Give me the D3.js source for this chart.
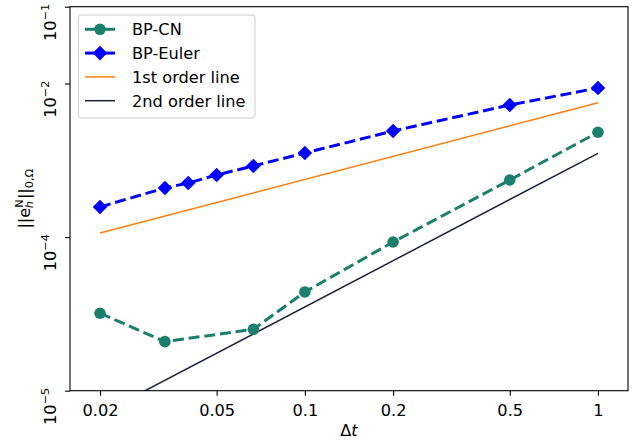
<!DOCTYPE html>
<html>
<head>
<meta charset="utf-8">
<script src="https://cdn.jsdelivr.net/npm/d3@7"></script>
<style>
  body { margin: 0; background: #fff; }
  text { font-family: "DejaVu Sans", sans-serif; }
</style>
</head>
<body>
<script>
// time steps
const dtEuler = [0.02, 0.0333, 0.04, 0.05, 0.0667, 0.1, 0.2, 0.5, 1];
const dtCN = [0.02, 0.0333, 0.0667, 0.1, 0.2, 0.5, 1];
const errEuler = [2.47e-4, 4.36e-4, 5.06e-4, 6.44e-4, 8.43e-4, 1.245e-3, 2.41e-3, 5.25e-3, 8.74e-3];
const errCN = [1.02e-5, 4.35e-6, 6.3e-6, 1.93e-5, 8.63e-5, 5.54e-4, 2.32e-3];
// reference lines (end points)
const dtRef = [0.02, 1];
const firstOrder = [1.13e-4, 5.62e-3];
const secondOrder = [4.93e-7, 1.233e-3];

const xTicks = [0.02, 0.05, 0.1, 0.2, 0.5, 1];
const xTickLabels = ["0.02", "0.05", "0.1", "0.2", "0.5", "1"];
const yTicks = [1e-6, 1e-4, 1e-2, 1e-1];
const yTickExps = ["5", "4", "2", "1"];

const width = 644;
const height = 443;
const plotLeft = 70, plotRight = 628, plotTop = 6.7, plotBottom = 390.7;
const fs = 16.2;
const fsSmall = 11.3;

const teal = "#1b7f6e";
const blue = "#0000ff";
const orange = "#ff7f0e";
const dark = "#1c1f3b";

const svg = d3
  .select("body")
  .append("svg")
  .attr("width", width)
  .attr("height", height);

const xScale = d3.scaleLog().domain([0.0158, 1.266]).range([plotLeft, plotRight]);
const yScale = d3.scaleLog().domain([1e-6, 1e-1]).range([plotBottom, plotTop]);

svg
  .append("clipPath")
  .attr("id", "plot-clip")
  .append("rect")
  .attr("x", plotLeft)
  .attr("y", plotTop)
  .attr("width", plotRight - plotLeft)
  .attr("height", plotBottom - plotTop);

const plot = svg.append("g").attr("clip-path", "url(#plot-clip)");

const line = d3
  .line()
  .x((d) => xScale(d[0]))
  .y((d) => yScale(d[1]));

const zip = (a, b) => a.map((v, i) => [v, b[i]]);

// reference lines
plot
  .append("path")
  .attr("d", line(zip(dtRef, firstOrder)))
  .attr("fill", "none")
  .attr("stroke", orange)
  .attr("stroke-width", 1.5);

plot
  .append("path")
  .attr("d", line(zip(dtRef, secondOrder)))
  .attr("fill", "none")
  .attr("stroke", dark)
  .attr("stroke-width", 1.5);

// BP-CN
plot
  .append("path")
  .attr("d", line(zip(dtCN, errCN)))
  .attr("fill", "none")
  .attr("stroke", teal)
  .attr("stroke-width", 3)
  .attr("stroke-dasharray", "11,4.8");

plot
  .selectAll(".cn")
  .data(zip(dtCN, errCN))
  .enter()
  .append("circle")
  .attr("class", "cn")
  .attr("cx", (d) => xScale(d[0]))
  .attr("cy", (d) => yScale(d[1]))
  .attr("r", 5.8)
  .attr("fill", teal);

// BP-Euler
plot
  .append("path")
  .attr("d", line(zip(dtEuler, errEuler)))
  .attr("fill", "none")
  .attr("stroke", blue)
  .attr("stroke-width", 3)
  .attr("stroke-dasharray", "11,4.8");

const diamond = "M0,-7.3L7.3,0L0,7.3L-7.3,0Z";

plot
  .selectAll(".eu")
  .data(zip(dtEuler, errEuler))
  .enter()
  .append("path")
  .attr("class", "eu")
  .attr("d", diamond)
  .attr("transform", (d) => `translate(${xScale(d[0])},${yScale(d[1])})`)
  .attr("fill", blue);

// axes
const xAxis = d3
  .axisBottom(xScale)
  .tickValues(xTicks)
  .tickFormat((d, i) => xTickLabels[i])
  .tickSize(5)
  .tickPadding(5);

const gx = svg
  .append("g")
  .attr("transform", `translate(0, ${plotBottom})`)
  .call(xAxis);
gx.select(".domain").remove();
gx.selectAll("line").attr("stroke-width", 1.1);
gx.selectAll("text")
  .attr("font-size", fs + "px")
  .attr("font-family", "DejaVu Sans")
  .attr("fill", "#000")
  .attr("dy", null)
  .attr("y", 25);

const yAxis = d3.axisLeft(yScale).tickValues(yTicks).tickSize(5).tickFormat("");
const gy = svg.append("g").attr("transform", `translate(${plotLeft}, 0)`).call(yAxis);
gy.select(".domain").remove();
gy.selectAll("line").attr("stroke-width", 1.1);

// rotated y tick labels
yTicks.forEach((v, i) => {
  const t = svg
    .append("text")
    .attr("transform", `translate(56, ${yScale(v) - 3}) rotate(-90)`)
    .attr("text-anchor", "end")
    .attr("font-size", fs + "px")
    .attr("fill", "#000");
  t.append("tspan").text("10");
  t.append("tspan")
    .attr("dy", -7)
    .attr("font-size", fsSmall + "px")
    .text("\u2212" + yTickExps[i]);
});

// frame
svg
  .append("rect")
  .attr("x", plotLeft)
  .attr("y", plotTop)
  .attr("width", plotRight - plotLeft)
  .attr("height", plotBottom - plotTop)
  .attr("fill", "none")
  .attr("stroke", "#000")
  .attr("stroke-width", 1.1);

// axis labels
const xl = svg
  .append("text")
  .attr("x", (plotLeft + plotRight) / 2)
  .attr("y", 436)
  .attr("text-anchor", "middle")
  .attr("font-size", fs + "px")
  .attr("fill", "#000");
xl.append("tspan").text("\u0394");
xl.append("tspan").attr("font-style", "italic").text("t");

const yl = svg
  .append("text")
  .attr("transform", `translate(30, ${(plotTop + plotBottom) / 2}) rotate(-90)`)
  .attr("text-anchor", "middle")
  .attr("font-size", fs + "px")
  .attr("fill", "#000");
yl.append("tspan").text("||e");
yl.append("tspan").attr("font-size", fsSmall + "px").attr("dy", -7).text("N");
yl.append("tspan").attr("font-size", fsSmall + "px").attr("dx", -9).attr("dy", 10).attr("font-style", "italic").text("h");
yl.append("tspan").attr("dy", -3).attr("dx", 2).text("||");
yl.append("tspan").attr("font-size", fsSmall + "px").attr("dy", 3).text("0,\u03a9");

// legend
const legend = svg.append("g");
legend
  .append("rect")
  .attr("x", 78.3)
  .attr("y", 15)
  .attr("width", 176.7)
  .attr("height", 103)
  .attr("rx", 3)
  .attr("fill", "#fff")
  .attr("fill-opacity", 0.8)
  .attr("stroke", "#cccccc")
  .attr("stroke-width", 1);

const legendItems = [
  { label: "BP-CN", color: teal, width: 3, marker: "circle" },
  { label: "BP-Euler", color: blue, width: 3, marker: "diamond" },
  { label: "1st order line", color: orange, width: 1.5, marker: null },
  { label: "2nd order line", color: dark, width: 1.5, marker: null },
];

legendItems.forEach((item, i) => {
  const y = 29.3 + i * 23.8;
  legend
    .append("line")
    .attr("x1", 85)
    .attr("x2", 115)
    .attr("y1", y)
    .attr("y2", y)
    .attr("stroke", item.color)
    .attr("stroke-width", item.width);
  if (item.marker === "circle") {
    legend.append("circle").attr("cx", 100).attr("cy", y).attr("r", 5.8).attr("fill", item.color);
  } else if (item.marker === "diamond") {
    legend
      .append("path")
      .attr("d", diamond)
      .attr("transform", `translate(100,${y})`)
      .attr("fill", item.color);
  }
  legend
    .append("text")
    .attr("x", 132)
    .attr("y", y + 5.8)
    .attr("font-size", fs + "px")
    .attr("fill", "#000")
    .text(item.label);
});
</script>
</body>
</html>
